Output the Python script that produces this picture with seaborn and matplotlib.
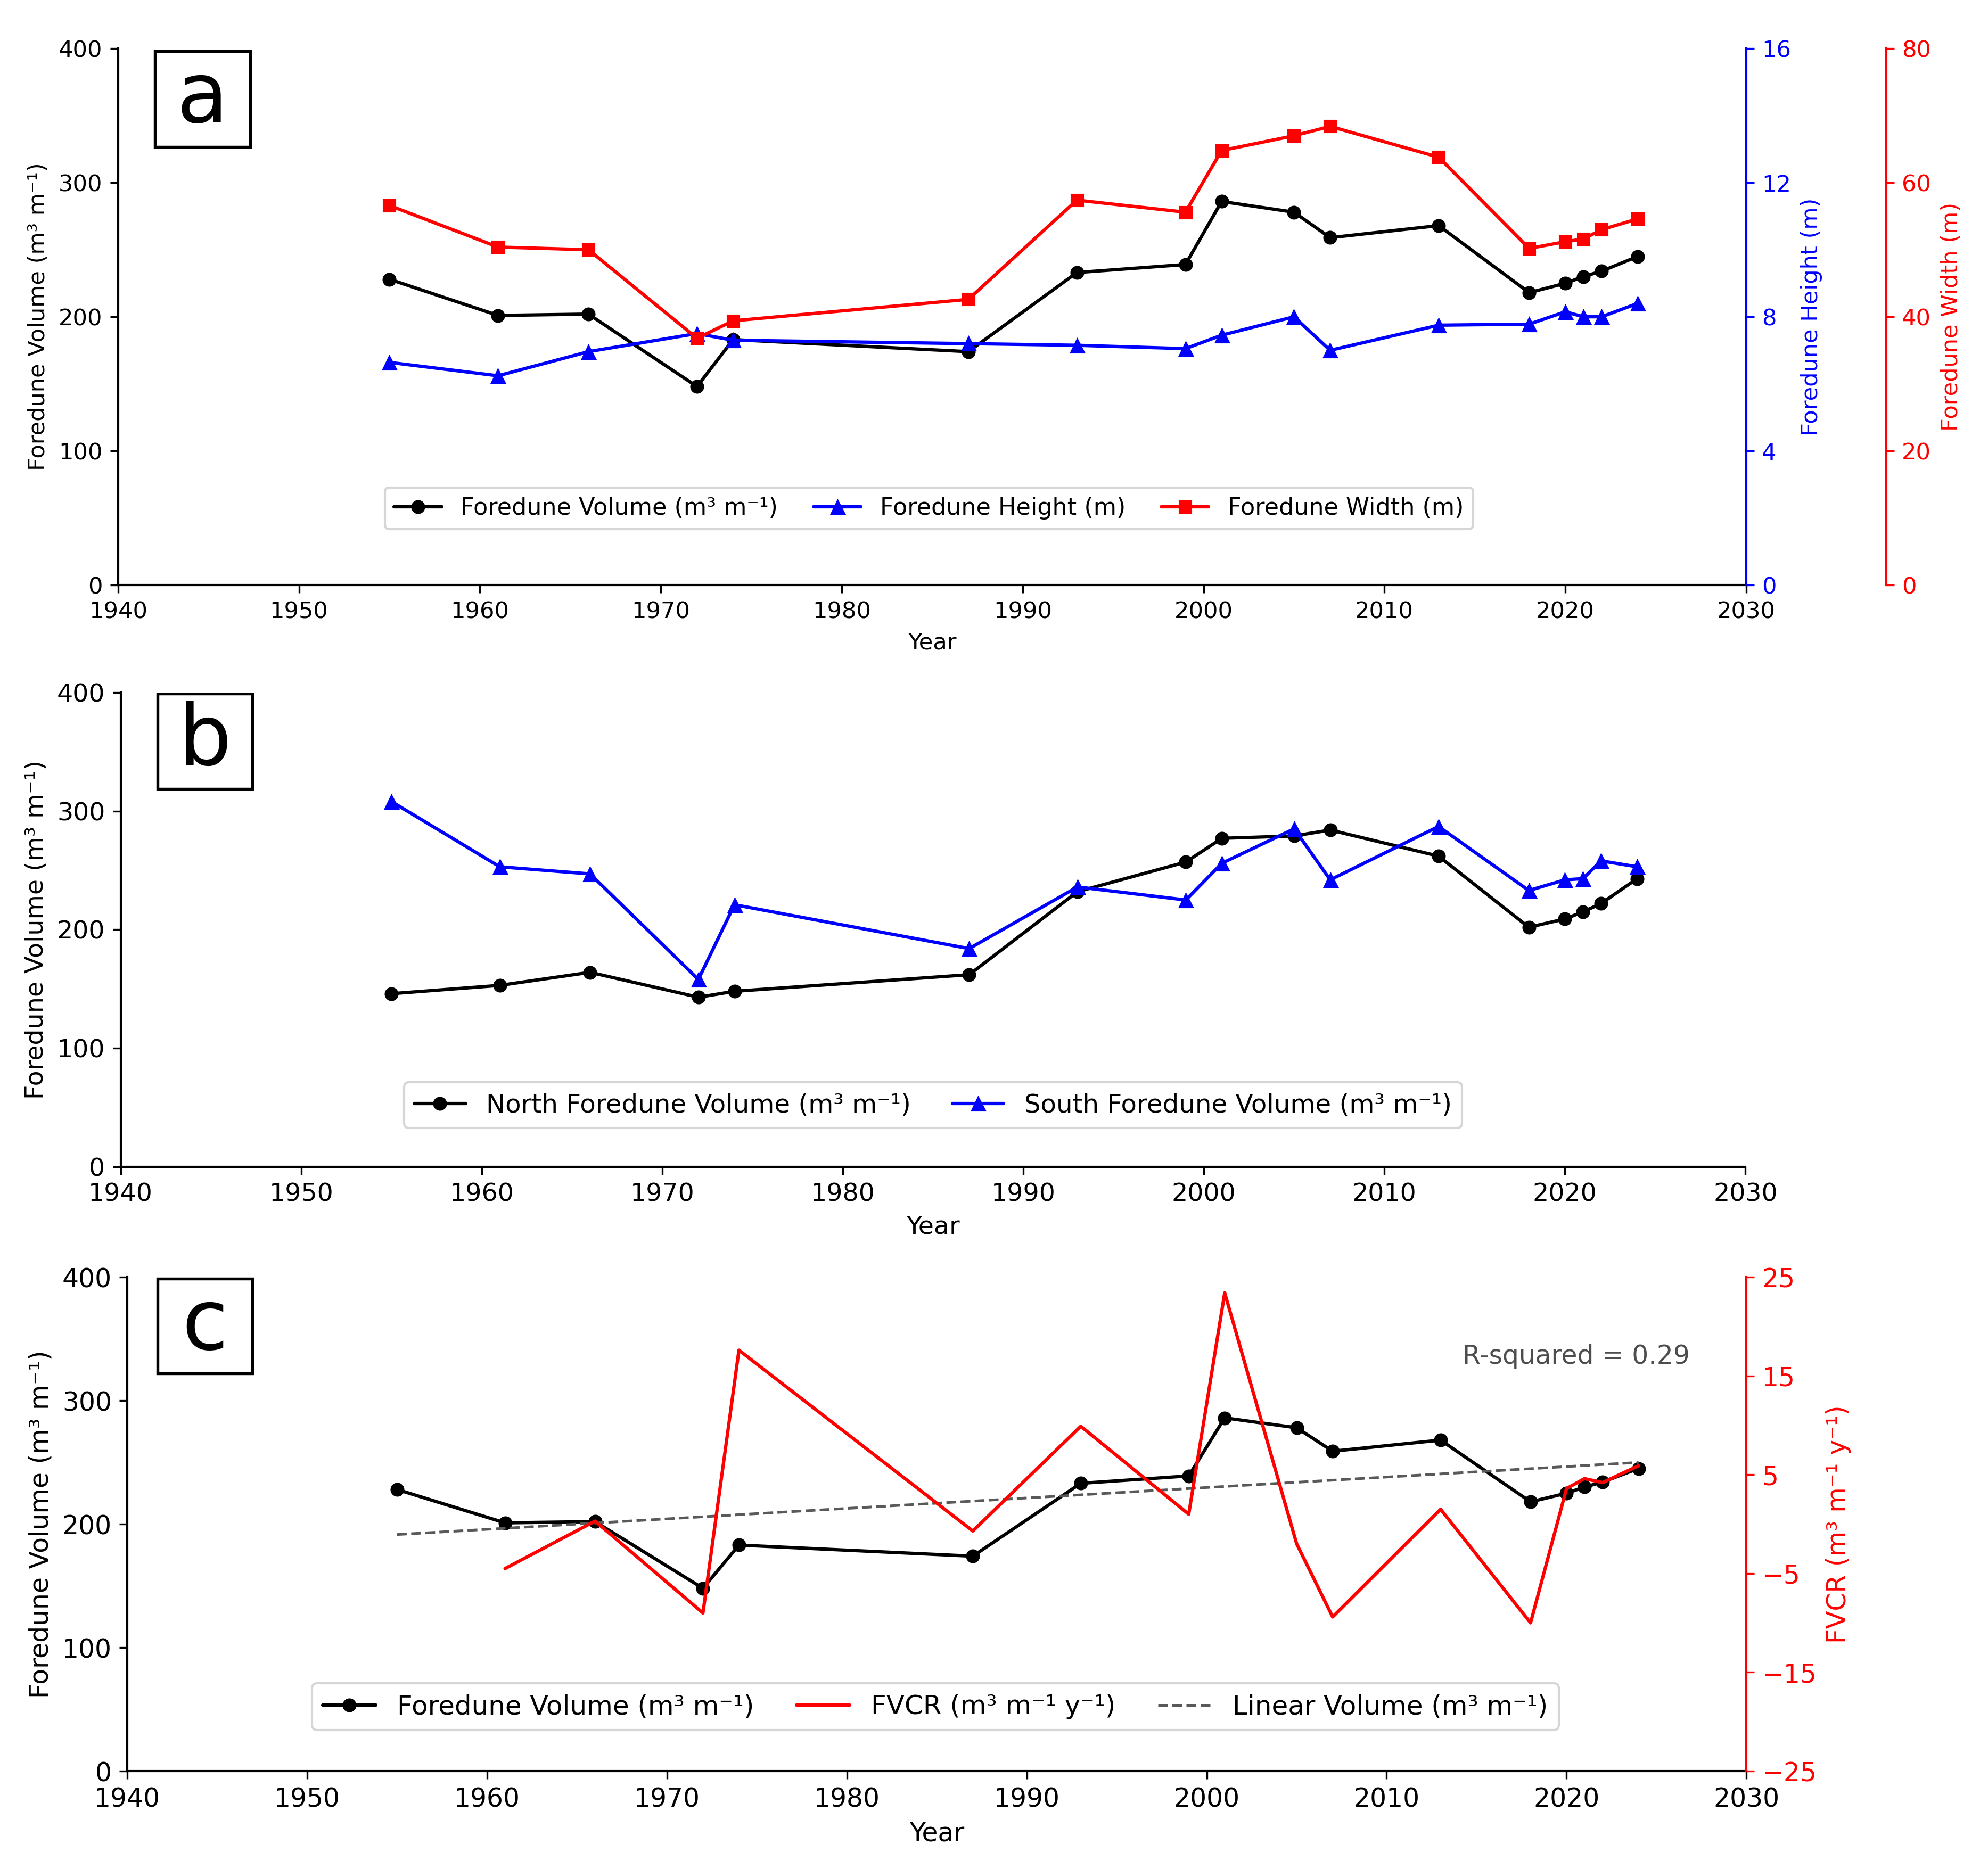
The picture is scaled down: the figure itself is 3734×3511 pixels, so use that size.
import numpy as np
import pandas as pd
import matplotlib
matplotlib.use("Agg")
import matplotlib.pyplot as plt
from matplotlib.patches import Rectangle
import seaborn as sns

# =========================================================
# 0. STYLE
# =========================================================

sns.set_style("ticks")
plt.rcParams["font.family"] = ["DejaVu Sans"]
plt.rcParams.update({
    "axes.linewidth": 1.0,
    "text.color": "black",
    "axes.labelcolor": "black",
    "xtick.color": "black",
    "ytick.color": "black",
    "axes.edgecolor": "black",
})

# =========================================================
# 1. DATA
# =========================================================

years = [1955, 1961, 1966, 1972, 1974, 1987, 1993, 1999, 2001,
         2005, 2007, 2013, 2018, 2020, 2021, 2022, 2024]

volume = [228, 201, 202, 148, 183, 174, 233, 239, 286,
          278, 259, 268, 218, 225, 230, 234, 245]

height = [6.64, 6.24, 6.96, 7.50, 7.30, 7.20, 7.15, 7.05, 7.45,
          8.00, 7.00, 7.75, 7.78, 8.15, 8.00, 8.00, 8.40]

width = [56.6, 50.4, 50.0, 36.8, 39.4, 42.6, 57.4, 55.6, 64.8,
         67.0, 68.4, 63.8, 50.2, 51.2, 51.6, 53.0, 54.6]

north_volume = [146, 153, 164, 143, 148, 162, 232, 257, 277,
                279, 284, 262, 202, 209, 215, 222, 243]

south_volume = [308, 253, 247, 158, 221, 184, 236, 225, 256,
                285, 242, 287, 233, 242, 243, 258, 253]

fvcr_years = years[1:]
fvcr = [-4.5, 0.3, -9.0, 17.6, -0.7, 9.9, 1.0, 23.4, -2.0,
        -9.4, 1.5, -10.0, 3.6, 4.6, 4.2, 5.9]

x_ticks = list(range(1940, 2031, 10))
r2_text = "R-squared = 0.29"

lbl_vol = "Foredune Volume (m³ m⁻¹)"

fig = plt.figure(figsize=(3734 / 300, 3511 / 300), dpi=300)


def panel_box(ax, letter, x0, y0, w, h, fs):
    ax.add_patch(Rectangle((x0, y0), w, h, transform=ax.transAxes,
                           fc="white", ec="black", lw=1.3, zorder=5))
    ax.text(x0 + w / 2, y0 + h / 2, letter, transform=ax.transAxes,
            ha="center", va="center", fontsize=fs, zorder=6)


def base_axes(ax, fs):
    ax.set_xlim(1940, 2030)
    ax.set_xticks(x_ticks)
    ax.set_ylim(0, 400)
    ax.set_yticks([0, 100, 200, 300, 400])
    ax.set_xlabel("Year", fontsize=fs)
    ax.set_ylabel(lbl_vol, fontsize=fs)
    ax.tick_params(labelsize=fs)
    ax.spines["top"].set_visible(False)
    ax.spines["right"].set_visible(False)


# =========================================================
# 2. PANEL A
# =========================================================

fs_a = 10.4
ax_a = fig.add_axes([0.0594, 0.687, 0.819, 0.287])
sns.lineplot(x=years, y=volume, ax=ax_a, color="black", marker="o",
             markersize=5.5, mec="black", lw=1.5, label=lbl_vol, legend=False)
base_axes(ax_a, fs_a)

ax_h = ax_a.twinx()
sns.lineplot(x=years, y=height, ax=ax_h, color="blue", marker="^",
             markersize=6, mec="blue", lw=1.5, label="Foredune Height (m)", legend=False)
ax_h.set_ylim(0, 16)
ax_h.set_yticks([0, 4, 8, 12, 16])
ax_h.set_ylabel("Foredune Height (m)", color="blue", fontsize=fs_a)
ax_h.tick_params(axis="y", colors="blue", labelsize=fs_a)
ax_h.spines["right"].set_color("blue")

ax_w = ax_a.twinx()
sns.lineplot(x=years, y=width, ax=ax_w, color="red", marker="s",
             markersize=5.5, mec="red", lw=1.5, label="Foredune Width (m)", legend=False)
ax_w.set_ylim(0, 80)
ax_w.set_yticks([0, 20, 40, 60, 80])
ax_w.set_ylabel("Foredune Width (m)", color="red", fontsize=fs_a)
ax_w.tick_params(axis="y", colors="red", labelsize=fs_a)
ax_w.spines["right"].set_position(("axes", 1.086))
ax_w.spines["right"].set_color("red")

for a in (ax_h, ax_w):
    a.spines["top"].set_visible(False)
    a.spines["left"].set_visible(False)
    a.spines["bottom"].set_visible(False)

handles = []
labels = []
for a in (ax_a, ax_h, ax_w):
    h, l = a.get_legend_handles_labels()
    handles += h
    labels += l
ax_w.legend(handles, labels, loc="center", bbox_to_anchor=(0.498, 0.143),
            ncol=3, fontsize=10.7, columnspacing=1.5)
panel_box(ax_a, "a", 0.0226, 0.817, 0.0584, 0.178, 38)

# =========================================================
# 3. PANEL B
# =========================================================

fs_b = 11.4
ax_b = fig.add_axes([0.0607, 0.3757, 0.8173, 0.2538])
sns.lineplot(x=years, y=north_volume, ax=ax_b, color="black", marker="o",
             markersize=5.5, mec="black", lw=1.5,
             label="North Foredune Volume (m³ m⁻¹)", legend=False)
sns.lineplot(x=years, y=south_volume, ax=ax_b, color="blue", marker="^",
             markersize=6, mec="blue", lw=1.5,
             label="South Foredune Volume (m³ m⁻¹)", legend=False)
base_axes(ax_b, fs_b)
ax_b.legend(loc="center", bbox_to_anchor=(0.5, 0.13), ncol=2,
            fontsize=11.6, columnspacing=1.6)
panel_box(ax_b, "b", 0.0226, 0.797, 0.0585, 0.2, 38)

# =========================================================
# 4. PANEL C
# =========================================================

fs_c = 11.7
ax_c = fig.add_axes([0.064, 0.0524, 0.8145, 0.2643])
sns.lineplot(x=years, y=volume, ax=ax_c, color="black", marker="o",
             markersize=5.5, mec="black", lw=1.5, label=lbl_vol, legend=False)
sns.regplot(x=np.array(years), y=np.array(volume), ax=ax_c, scatter=False, ci=None,
            label="Linear Volume (m³ m⁻¹)",
            line_kws=dict(color="0.35", ls="--", lw=1.2))
base_axes(ax_c, fs_c)
ax_c.text(0.965, 0.839, r2_text, transform=ax_c.transAxes, ha="right", va="center",
          color="0.3", fontsize=fs_c)

ax_f = ax_c.twinx()
sns.lineplot(x=fvcr_years, y=fvcr, ax=ax_f, color="red", lw=1.5,
             label="FVCR (m³ m⁻¹ y⁻¹)", legend=False)
ax_f.set_ylim(-25, 25)
ax_f.set_yticks([-25, -15, -5, 5, 15, 25])
ax_f.set_ylabel("FVCR (m³ m⁻¹ y⁻¹)", color="red", fontsize=fs_c)
ax_f.tick_params(axis="y", colors="red", labelsize=fs_c)
ax_f.spines["right"].set_color("red")
for s in ("top", "left", "bottom"):
    ax_f.spines[s].set_visible(False)

h1, l1 = ax_c.get_legend_handles_labels()
h2, l2 = ax_f.get_legend_handles_labels()
order_h = [h1[0], h2[0]] + h1[1:2]
order_l = [l1[0], l2[0]] + l1[1:2]
ax_f.legend(order_h, order_l, loc="center", bbox_to_anchor=(0.499, 0.13),
            ncol=3, fontsize=12.0, columnspacing=1.6)
panel_box(ax_c, "c", 0.0188, 0.805, 0.0585, 0.192, 38)

fig.savefig("out.png", dpi=300)
